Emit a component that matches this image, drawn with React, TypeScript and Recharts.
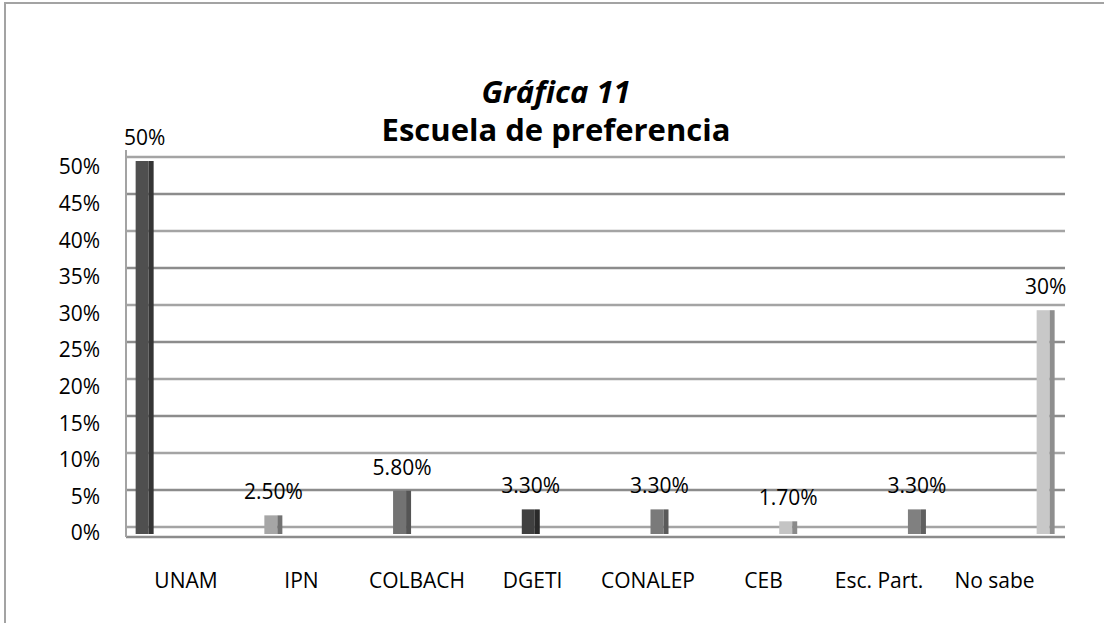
import React from "react";
import { BarChart, Bar, XAxis, YAxis, CartesianGrid, LabelList } from "recharts";

const categories = ["UNAM", "IPN", "COLBACH", "DGETI", "CONALEP", "CEB", "Esc. Part.", "No sabe"];
const values = [0.5, 0.025, 0.058, 0.033, 0.033, 0.017, 0.033, 0.3];
const valueLabels = ["50%", "2.50%", "5.80%", "3.30%", "3.30%", "1.70%", "3.30%", "30%"];
const yTicks = [0, 0.05, 0.1, 0.15, 0.2, 0.25, 0.3, 0.35, 0.4, 0.45, 0.5];
const yTickLabels = ["0%", "5%", "10%", "15%", "20%", "25%", "30%", "35%", "40%", "45%", "50%"];
const xTicks = categories.map((_, i) => i);

const frontColors = ["#4f4f4f", "#a6a6a6", "#737373", "#404040", "#7a7a7a", "#c4c4c4", "#808080", "#c8c8c8"];
const sideColors = ["#353535", "#727272", "#555555", "#2a2a2a", "#5a5a5a", "#8a8a8a", "#606060", "#8e8e8e"];

const data = categories.map((name, i) => ({ idx: i, name, value: values[i], label: valueLabels[i] }));

const FONT = '"Open Sans", sans-serif';

const Bar3D = (props: any) => {
  const { x, y, width, height, index } = props;
  if (!height || height <= 0) return null;
  const side = 5;
  return (
    <g>
      <rect x={x} y={y} width={width - side} height={height} fill={frontColors[index]} />
      <rect x={x + width - side} y={y} width={side} height={height} fill={sideColors[index]} />
    </g>
  );
};

const GridLine = (props: any) => {
  const { x1, x2, y1, y2, index } = props;
  if (index >= yTicks.length) return <g />;
  const stroke = index % 2 === 0 ? "#a4a4a4" : "#8c8c8c";
  return <line x1={x1} x2={x2} y1={y1} y2={y2} stroke={stroke} strokeWidth={2.5} />;
};

export default function App() {
  return (
    <div style={{ position: "relative", width: 1104, height: 623, overflow: "hidden", background: "#fff" }}>
      <style>{`body{margin:0}`}</style>
      <div
        style={{
          position: "absolute",
          left: 4,
          top: 2,
          width: 1200,
          height: 700,
          border: "2px solid #a3a3a3",
          boxSizing: "border-box",
        }}
      />
      <svg width={1104} height={623} style={{ position: "absolute", left: 0, top: 0 }}>
        <text x={556} y={103} textAnchor="middle" fontFamily={FONT} fontWeight="bold" fontStyle="italic" fontSize={31} fill="#000">
          Gráfica 11
        </text>
        <text x={556} y={141} textAnchor="middle" fontFamily={FONT} fontWeight="bold" fontSize={31} fill="#000">
          Escuela de preferencia
        </text>
      </svg>
      <div style={{ position: "absolute", left: 0, top: 0 }}>
        <BarChart
          width={1104}
          height={623}
          data={data}
          margin={{ top: 150, right: 39, left: 66, bottom: 0 }}
          style={{ fontFamily: FONT }}
        >
          <XAxis
            xAxisId="lx"
            dataKey="idx"
            type="number"
            domain={[-0.5195, 7.61]}
            allowDataOverflow
            ticks={xTicks}
            interval={0}
            tickFormatter={(v: number) => categories[v] ?? ""}
            tickLine={false}
            tickSize={0}
            tickMargin={36}
            height={86}
            axisLine={{ stroke: "#8c8c8c", strokeWidth: 2.5 }}
            tick={{ fill: "#000", fontSize: 21, fontFamily: FONT }}
          />
          <XAxis xAxisId="bx" dataKey="idx" type="number" domain={[-0.1476, 7.1476]} allowDataOverflow hide height={0} />
          <YAxis
            yAxisId="ly"
            type="number"
            domain={[-0.005464, 0.52322]}
            allowDataOverflow
            ticks={yTicks}
            interval={0}
            width={60}
            tickFormatter={(v: number) => yTickLabels[yTicks.indexOf(v)] ?? ""}
            tickLine={false}
            tickSize={0}
            tickMargin={26}
            axisLine={{ stroke: "#a3a3a3", strokeWidth: 2 }}
            tick={{ fill: "#000", fontSize: 21, fontFamily: FONT }}
          />
          <YAxis yAxisId="by" type="number" domain={[-0.00402, 0.51475]} allowDataOverflow hide width={0} />
          <YAxis yAxisId="gy" type="number" domain={[-0.01351, 0.50946]} allowDataOverflow ticks={yTicks} hide width={0} />
          <CartesianGrid xAxisId="bx" yAxisId="gy" vertical={false} horizontal={(p: any) => <GridLine {...p} />} />
          <Bar
            xAxisId="bx"
            yAxisId="by"
            dataKey="value"
            barSize={18}
            shape={(p: any) => <Bar3D {...p} />}
            isAnimationActive={false}
          >
            <LabelList dataKey="label" position="top" offset={16} fill="#000" fontSize={21} fontFamily={FONT} />
          </Bar>
        </BarChart>
      </div>
    </div>
  );
}
